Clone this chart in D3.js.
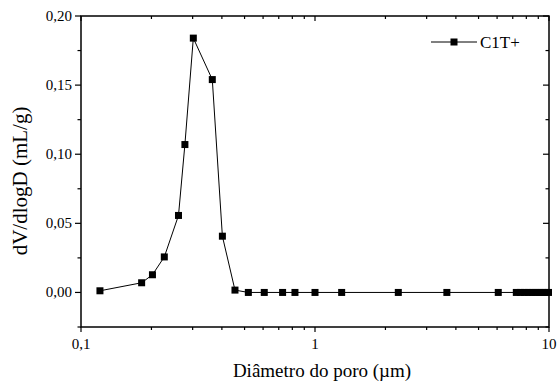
<!DOCTYPE html>
<html>
<head>
<meta charset="utf-8">
<script src="https://cdn.jsdelivr.net/npm/d3@7"></script>
<style>
  body { margin: 0; background: #fff; }
</style>
</head>
<body>
<div id="chart"></div>
<script>
'use strict';

// pore diameter (um) and dV/dlogD (mL/g)
var diameters = [0.1205, 0.1816, 0.202, 0.227, 0.261, 0.278, 0.302, 0.364, 0.402, 0.455,
    0.519, 0.607, 0.727, 0.821, 1.0, 1.30, 2.27, 3.66, 6.07,
    7.25, 7.55, 7.85, 8.15, 8.45, 8.75, 9.05, 9.35, 9.65, 9.95];
var volumes = [0.0012, 0.007, 0.0128, 0.0257, 0.0557, 0.107, 0.184, 0.154, 0.0407, 0.0017,
    0, 0, 0, 0, 0, 0, 0, 0, 0,
    0, 0, 0, 0, 0, 0, 0, 0, 0, 0];
var seriesName = 'C1T+';
var xTicks = [0.1, 1, 10];
var yTicks = [0, 0.05, 0.10, 0.15, 0.20];

var width = 559, height = 382;
var margin = {top: 16, right: 10, bottom: 55, left: 81};

var svg = d3.select('#chart').append('svg')
    .attr('width', width)
    .attr('height', height)
    .attr('font-family', '"Liberation Serif", "Times New Roman", "DejaVu Serif", serif')
    .attr('fill', '#000');

var x = d3.scaleLog().domain([0.1, 10]).range([margin.left, width - margin.right]);
var y = d3.scaleLinear().domain([-0.025, 0.20]).range([height - margin.bottom, margin.top]);

var comma = function (d, n) {
    return d.toFixed(n).replace('.', ',');
};

// minor ticks on the log axis: 2..9 of each decade
var xMinor = [];
[0.1, 1].forEach(function (dec) {
    for (var k = 2; k <= 9; k++) xMinor.push(dec * k);
});
var yMinor = d3.range(-0.025, 0.2, 0.05).map(function (v) { return +v.toFixed(3); });

var x0 = x.range()[0], x1 = x.range()[1];
var y0 = y.range()[0], y1 = y.range()[1];

var tickLines = function (g, data, horiz, len) {
    g.selectAll(null).data(data).enter().append('line')
        .attr(horiz ? 'x1' : 'y1', horiz ? x : y)
        .attr(horiz ? 'x2' : 'y2', horiz ? x : y)
        .attr(horiz ? 'y1' : 'x1', 0)
        .attr(horiz ? 'y2' : 'x2', len)
        .attr('stroke', '#000').attr('stroke-width', 1.2);
};

// bottom axis (outward ticks, labels)
var gBottom = svg.append('g').attr('transform', 'translate(0,' + y0 + ')');
tickLines(gBottom, xTicks, true, 5);
tickLines(gBottom, xMinor, true, 3);
gBottom.selectAll('text').data(xTicks).enter().append('text')
    .attr('x', x).attr('y', 22)
    .attr('text-anchor', 'middle')
    .style('font-size', '15px')
    .text(function (d) { return d < 1 ? comma(d, 1) : String(d); });

// top axis (inward ticks)
var gTop = svg.append('g').attr('transform', 'translate(0,' + y1 + ')');
tickLines(gTop, xTicks, true, 5);
tickLines(gTop, xMinor, true, 3);

// left axis (outward ticks, labels)
var gLeft = svg.append('g').attr('transform', 'translate(' + x0 + ',0)');
tickLines(gLeft, yTicks, false, -6);
tickLines(gLeft, yMinor, false, -3.5);
gLeft.selectAll('text').data(yTicks).enter().append('text')
    .attr('x', -9).attr('y', function (d) { return y(d) + 5; })
    .attr('text-anchor', 'end')
    .style('font-size', '15px')
    .text(function (d) { return comma(d, 2); });

// right axis (inward ticks)
var gRight = svg.append('g').attr('transform', 'translate(' + x1 + ',0)');
tickLines(gRight, yTicks, false, -6);
tickLines(gRight, yMinor, false, -3.5);

// frame
svg.append('rect')
    .attr('x', x0).attr('y', y1)
    .attr('width', x1 - x0).attr('height', y0 - y1)
    .attr('fill', 'none').attr('stroke', '#000').attr('stroke-width', 1.5);

// series
var pts = diameters.map(function (d, i) { return {x: d, y: volumes[i]}; });
var line = d3.line()
    .x(function (d) { return x(d.x); })
    .y(function (d) { return y(d.y); });

svg.append('path')
    .datum(pts)
    .attr('d', line)
    .attr('fill', 'none')
    .attr('stroke', '#000')
    .attr('stroke-width', 1);

var ms = 7;
svg.selectAll('rect.pt').data(pts).enter().append('rect')
    .attr('class', 'pt')
    .attr('x', function (d) { return x(d.x) - ms / 2; })
    .attr('y', function (d) { return y(d.y) - ms / 2; })
    .attr('width', ms).attr('height', ms)
    .attr('fill', '#000');

// legend
var lg = svg.append('g').attr('transform', 'translate(431,42)');
lg.append('line').attr('x1', 0).attr('x2', 46).attr('y1', 0).attr('y2', 0)
    .attr('stroke', '#000').attr('stroke-width', 1);
lg.append('rect').attr('x', 23 - 3.5).attr('y', -3.5).attr('width', 7).attr('height', 7).attr('fill', '#000');
lg.append('text').attr('x', 49).attr('y', 6).style('font-size', '17px').text(seriesName);

// axis titles
svg.append('text')
    .attr('x', 322).attr('y', 377)
    .attr('text-anchor', 'middle')
    .style('font-size', '19px')
    .text('Diâmetro do poro (µm)');

svg.append('text')
    .attr('transform', 'translate(27,181) rotate(-90)')
    .attr('text-anchor', 'middle')
    .style('font-size', '21px')
    .text('dV/dlogD (mL/g)');
</script>
</body>
</html>
